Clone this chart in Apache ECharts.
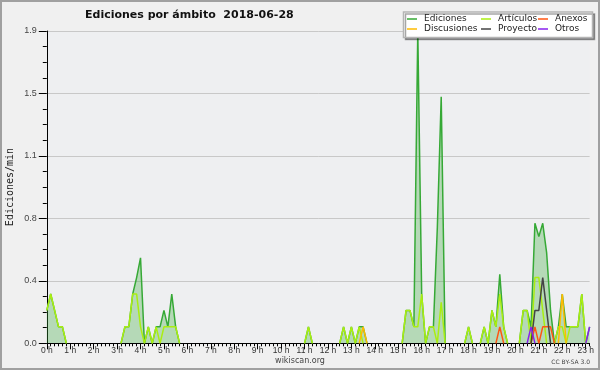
<!DOCTYPE html>
<html>
<head>
<meta charset="utf-8">
<script src="https://cdn.jsdelivr.net/npm/echarts@6/dist/echarts.min.js"></script>
<style>
  html, body { margin: 0; padding: 0; background: #f0f0f0; }
  #chart { width: 600px; height: 370px; }
</style>
</head>
<body>
<div id="chart"></div>
<script>
// one value every 10 minutes, edits per minute
const hourLabels = ['0 h', '1 h', '2 h', '3 h', '4 h', '5 h', '6 h', '7 h', '8 h', '9 h', '10 h', '11 h',
  '12 h', '13 h', '14 h', '15 h', '16 h', '17 h', '18 h', '19 h', '20 h', '21 h', '22 h', '23 h'];
const binsPerHour = 6;

const ediciones = [
  0.2, 0.3, 0.2, 0.1, 0.1, 0, 0, 0, 0, 0, 0, 0,
  0, 0, 0, 0, 0, 0, 0, 0, 0.1, 0.1, 0.3, 0.4,
  0.52, 0, 0.1, 0, 0.1, 0.1, 0.2, 0.1, 0.3, 0.1, 0, 0,
  0, 0, 0, 0, 0, 0, 0, 0, 0, 0, 0, 0,
  0, 0, 0, 0, 0, 0, 0, 0, 0, 0, 0, 0,
  0, 0, 0, 0, 0, 0, 0, 0.1, 0, 0, 0, 0,
  0, 0, 0, 0, 0.1, 0, 0.1, 0, 0.1, 0.1, 0, 0,
  0, 0, 0, 0, 0, 0, 0, 0, 0.2, 0.2, 0.1, 1.9,
  0.3, 0, 0.1, 0.1, 0.7, 1.5, 0, 0, 0, 0, 0, 0,
  0.1, 0, 0, 0, 0.1, 0, 0.2, 0.1, 0.42, 0.1, 0, 0,
  0, 0, 0.2, 0.2, 0.1, 0.73, 0.65, 0.73, 0.55, 0.2, 0, 0.1,
  0.3, 0.1, 0.1, 0.1, 0.1, 0.3, 0, 0.1
];
const articulos = [
  0.2, 0.3, 0.2, 0.1, 0.1, 0, 0, 0, 0, 0, 0, 0,
  0, 0, 0, 0, 0, 0, 0, 0, 0.1, 0.1, 0.3, 0.3,
  0.1, 0, 0.1, 0, 0.1, 0, 0.1, 0.1, 0.1, 0.1, 0, 0,
  0, 0, 0, 0, 0, 0, 0, 0, 0, 0, 0, 0,
  0, 0, 0, 0, 0, 0, 0, 0, 0, 0, 0, 0,
  0, 0, 0, 0, 0, 0, 0, 0.1, 0, 0, 0, 0,
  0, 0, 0, 0, 0.1, 0, 0.1, 0, 0.1, 0, 0, 0,
  0, 0, 0, 0, 0, 0, 0, 0, 0.2, 0.2, 0.1, 0.1,
  0.3, 0, 0.1, 0.1, 0, 0.25, 0, 0, 0, 0, 0, 0,
  0.1, 0, 0, 0, 0.1, 0, 0.2, 0.1, 0.3, 0.1, 0, 0,
  0, 0, 0.2, 0.2, 0, 0.4, 0.4, 0.2, 0, 0, 0, 0.1,
  0.1, 0, 0.1, 0.1, 0.1, 0.3, 0, 0
];
const discusiones = [
  0, 0, 0, 0, 0, 0, 0, 0, 0, 0, 0, 0,
  0, 0, 0, 0, 0, 0, 0, 0, 0, 0, 0, 0,
  0, 0, 0, 0, 0, 0, 0, 0, 0, 0, 0, 0,
  0, 0, 0, 0, 0, 0, 0, 0, 0, 0, 0, 0,
  0, 0, 0, 0, 0, 0, 0, 0, 0, 0, 0, 0,
  0, 0, 0, 0, 0, 0, 0, 0, 0, 0, 0, 0,
  0, 0, 0, 0, 0, 0, 0, 0, 0, 0.1, 0, 0,
  0, 0, 0, 0, 0, 0, 0, 0, 0, 0, 0, 0,
  0, 0, 0, 0, 0, 0, 0, 0, 0, 0, 0, 0,
  0, 0, 0, 0, 0, 0, 0, 0, 0, 0, 0, 0,
  0, 0, 0, 0, 0, 0, 0, 0, 0, 0, 0, 0,
  0.3, 0, 0, 0, 0, 0, 0, 0
];
const anexos = [
  0, 0, 0, 0, 0, 0, 0, 0, 0, 0, 0, 0,
  0, 0, 0, 0, 0, 0, 0, 0, 0, 0, 0, 0,
  0, 0, 0, 0, 0, 0, 0, 0, 0, 0, 0, 0,
  0, 0, 0, 0, 0, 0, 0, 0, 0, 0, 0, 0,
  0, 0, 0, 0, 0, 0, 0, 0, 0, 0, 0, 0,
  0, 0, 0, 0, 0, 0, 0, 0, 0, 0, 0, 0,
  0, 0, 0, 0, 0, 0, 0, 0, 0, 0, 0, 0,
  0, 0, 0, 0, 0, 0, 0, 0, 0, 0, 0, 0,
  0, 0, 0, 0, 0, 0, 0, 0, 0, 0, 0, 0,
  0, 0, 0, 0, 0, 0, 0, 0, 0.1, 0, 0, 0,
  0, 0, 0, 0, 0, 0.1, 0, 0.1, 0.1, 0.1, 0, 0,
  0, 0, 0, 0, 0, 0, 0, 0
];
const proyecto = [
  0, 0, 0, 0, 0, 0, 0, 0, 0, 0, 0, 0,
  0, 0, 0, 0, 0, 0, 0, 0, 0, 0, 0, 0,
  0, 0, 0, 0, 0, 0, 0, 0, 0, 0, 0, 0,
  0, 0, 0, 0, 0, 0, 0, 0, 0, 0, 0, 0,
  0, 0, 0, 0, 0, 0, 0, 0, 0, 0, 0, 0,
  0, 0, 0, 0, 0, 0, 0, 0, 0, 0, 0, 0,
  0, 0, 0, 0, 0, 0, 0, 0, 0, 0, 0, 0,
  0, 0, 0, 0, 0, 0, 0, 0, 0, 0, 0, 0,
  0, 0, 0, 0, 0, 0, 0, 0, 0, 0, 0, 0,
  0, 0, 0, 0, 0, 0, 0, 0, 0, 0, 0, 0,
  0, 0, 0, 0, 0, 0.2, 0.2, 0.4, 0.2, 0, 0, 0,
  0, 0, 0, 0, 0, 0, 0, 0
];
const otros = [
  0, 0, 0, 0, 0, 0, 0, 0, 0, 0, 0, 0,
  0, 0, 0, 0, 0, 0, 0, 0, 0, 0, 0, 0,
  0, 0, 0, 0, 0, 0, 0, 0, 0, 0, 0, 0,
  0, 0, 0, 0, 0, 0, 0, 0, 0, 0, 0, 0,
  0, 0, 0, 0, 0, 0, 0, 0, 0, 0, 0, 0,
  0, 0, 0, 0, 0, 0, 0, 0, 0, 0, 0, 0,
  0, 0, 0, 0, 0, 0, 0, 0, 0, 0, 0, 0,
  0, 0, 0, 0, 0, 0, 0, 0, 0, 0, 0, 0,
  0, 0, 0, 0, 0, 0, 0, 0, 0, 0, 0, 0,
  0, 0, 0, 0, 0, 0, 0, 0, 0, 0, 0, 0,
  0, 0, 0, 0, 0.1, 0, 0, 0, 0, 0, 0, 0,
  0, 0, 0, 0, 0, 0, 0, 0.1
];

const yMax = 1.9;
const yStep = 0.38;

// category per 10-min bin, hour label on the first bin of each hour
const categories = ediciones.map((v, i) =>
  i % binsPerHour === 0 ? hourLabels[i / binsPerHour] : '');

// the original only draws the lines where there is activity:
// drop zeros that sit between two other zeros so the baseline stays black
function activeOnly(arr) {
  return arr.map((v, i) => {
    const prev = i > 0 ? arr[i - 1] : 0;
    const next = i < arr.length - 1 ? arr[i + 1] : 0;
    return (v === 0 && prev === 0 && next === 0) ? '-' : v;
  });
}

const chart = echarts.init(document.getElementById('chart'));

function lineSeries(name, data, color, extra) {
  return Object.assign({
    name: name,
    type: 'line',
    data: activeOnly(data),
    symbol: 'none',
    connectNulls: false,
    animation: false,
    lineStyle: { color: color, width: 1.5 },
    itemStyle: { color: color },
    emphasis: { disabled: true }
  }, extra || {});
}

const legendBase = {
  orient: 'vertical',
  top: 14,
  icon: 'rect',
  itemWidth: 10,
  itemHeight: 1.5,
  itemGap: 0,
  z: 12,
  padding: 0,
  selectedMode: false,
  textStyle: { fontFamily: 'DejaVu Sans', fontSize: 9, lineHeight: 10, color: '#222', padding: [0, 0, 0, 2] }
};

const option = {
  backgroundColor: '#f0f0f0',
  animation: false,
  grid: {
    left: 46.8, right: 10.4, top: 31, bottom: 26.7,
    show: true, backgroundColor: '#eeeff1', borderWidth: 0
  },
  legend: [
    Object.assign({}, legendBase, { left: 407, data: ['Ediciones', 'Discusiones'] }),
    Object.assign({}, legendBase, { left: 481, data: ['Artículos', 'Proyecto'] }),
    Object.assign({}, legendBase, { left: 538, data: ['Anexos', 'Otros'] })
  ],
  xAxis: [
    {
      type: 'category', data: categories, boundaryGap: false, z: 3,
      axisLine: { lineStyle: { color: '#000', width: 1 } },
      axisTick: { show: true, interval: 0, length: 3, lineStyle: { color: '#000' } },
      axisLabel: { show: false },
      splitLine: { show: false }
    },
    {
      type: 'category', data: categories, boundaryGap: false, position: 'bottom', z: 3,
      axisLine: { show: false },
      axisTick: { show: true, interval: binsPerHour - 1, length: 6, lineStyle: { color: '#000' } },
      axisLabel: {
        interval: binsPerHour - 1, margin: 3,
        fontFamily: 'Liberation Sans', fontSize: 8.5, color: '#333'
      },
      splitLine: { show: false }
    }
  ],
  yAxis: {
    type: 'value', min: 0, max: yMax, interval: yStep,
    axisLine: { show: true, lineStyle: { color: '#000', width: 1 } },
    axisTick: { show: true, length: 8, lineStyle: { color: '#000' } },
    minorTick: { show: true, splitNumber: 4, length: 4, lineStyle: { color: '#000' } },
    axisLabel: {
      margin: 10, fontFamily: 'Liberation Sans', fontSize: 9, color: '#444',
      formatter: v => v.toFixed(1)
    },
    splitLine: { show: true, lineStyle: { color: '#c8c8c8', width: 1 } }
  },
  series: [
    lineSeries('Ediciones', ediciones, '#36a936', {
      areaStyle: { color: 'rgba(60,170,60,0.45)' }
    }),
    lineSeries('Artículos', articulos, '#aaee11'),
    lineSeries('Discusiones', discusiones, '#ffbb00'),
    lineSeries('Anexos', anexos, '#ff5511'),
    lineSeries('Proyecto', proyecto, '#444444'),
    lineSeries('Otros', otros, '#8822ee')
  ],
  graphic: [
    {
      type: 'rect', z: 20, silent: true,
      shape: { x: 1, y: 1, width: 598, height: 368 },
      style: { fill: 'none', stroke: '#a0a0a0', lineWidth: 2 }
    },
    {
      type: 'rect', z: 10, silent: true,
      shape: { x: 403.5, y: 12, width: 189, height: 25.5 },
      style: {
        fill: '#ffffff', stroke: '#b4b4b4', lineWidth: 1.5,
        shadowColor: 'rgba(0,0,0,0.35)', shadowOffsetX: 2, shadowOffsetY: 2, shadowBlur: 0
      }
    },
    {
      type: 'text', z: 10, left: 85, top: 10,
      style: {
        text: 'Ediciones por ámbito  2018-06-28',
        font: 'bold 11px "DejaVu Sans"', fill: '#111'
      }
    },
    {
      type: 'text', z: 10, x: 10, y: 187, rotation: Math.PI / 2,
      style: {
        text: 'Ediciones/min', x: 0, y: 0,
        textAlign: 'center', textVerticalAlign: 'middle',
        font: '10px "DejaVu Sans Mono"', fill: '#222'
      }
    },
    {
      type: 'text', z: 10, x: 300, y: 361,
      style: {
        text: 'wikiscan.org', x: 0, y: 0,
        textAlign: 'center', textVerticalAlign: 'middle',
        font: '8px "DejaVu Sans"', fill: '#444'
      }
    },
    {
      type: 'text', z: 10, x: 590, y: 362,
      style: {
        text: 'CC BY-SA 3.0', x: 0, y: 0,
        textAlign: 'right', textVerticalAlign: 'middle',
        font: '6px "DejaVu Sans"', fill: '#444'
      }
    }
  ]
};

chart.setOption(option);
</script>
</body>
</html>
